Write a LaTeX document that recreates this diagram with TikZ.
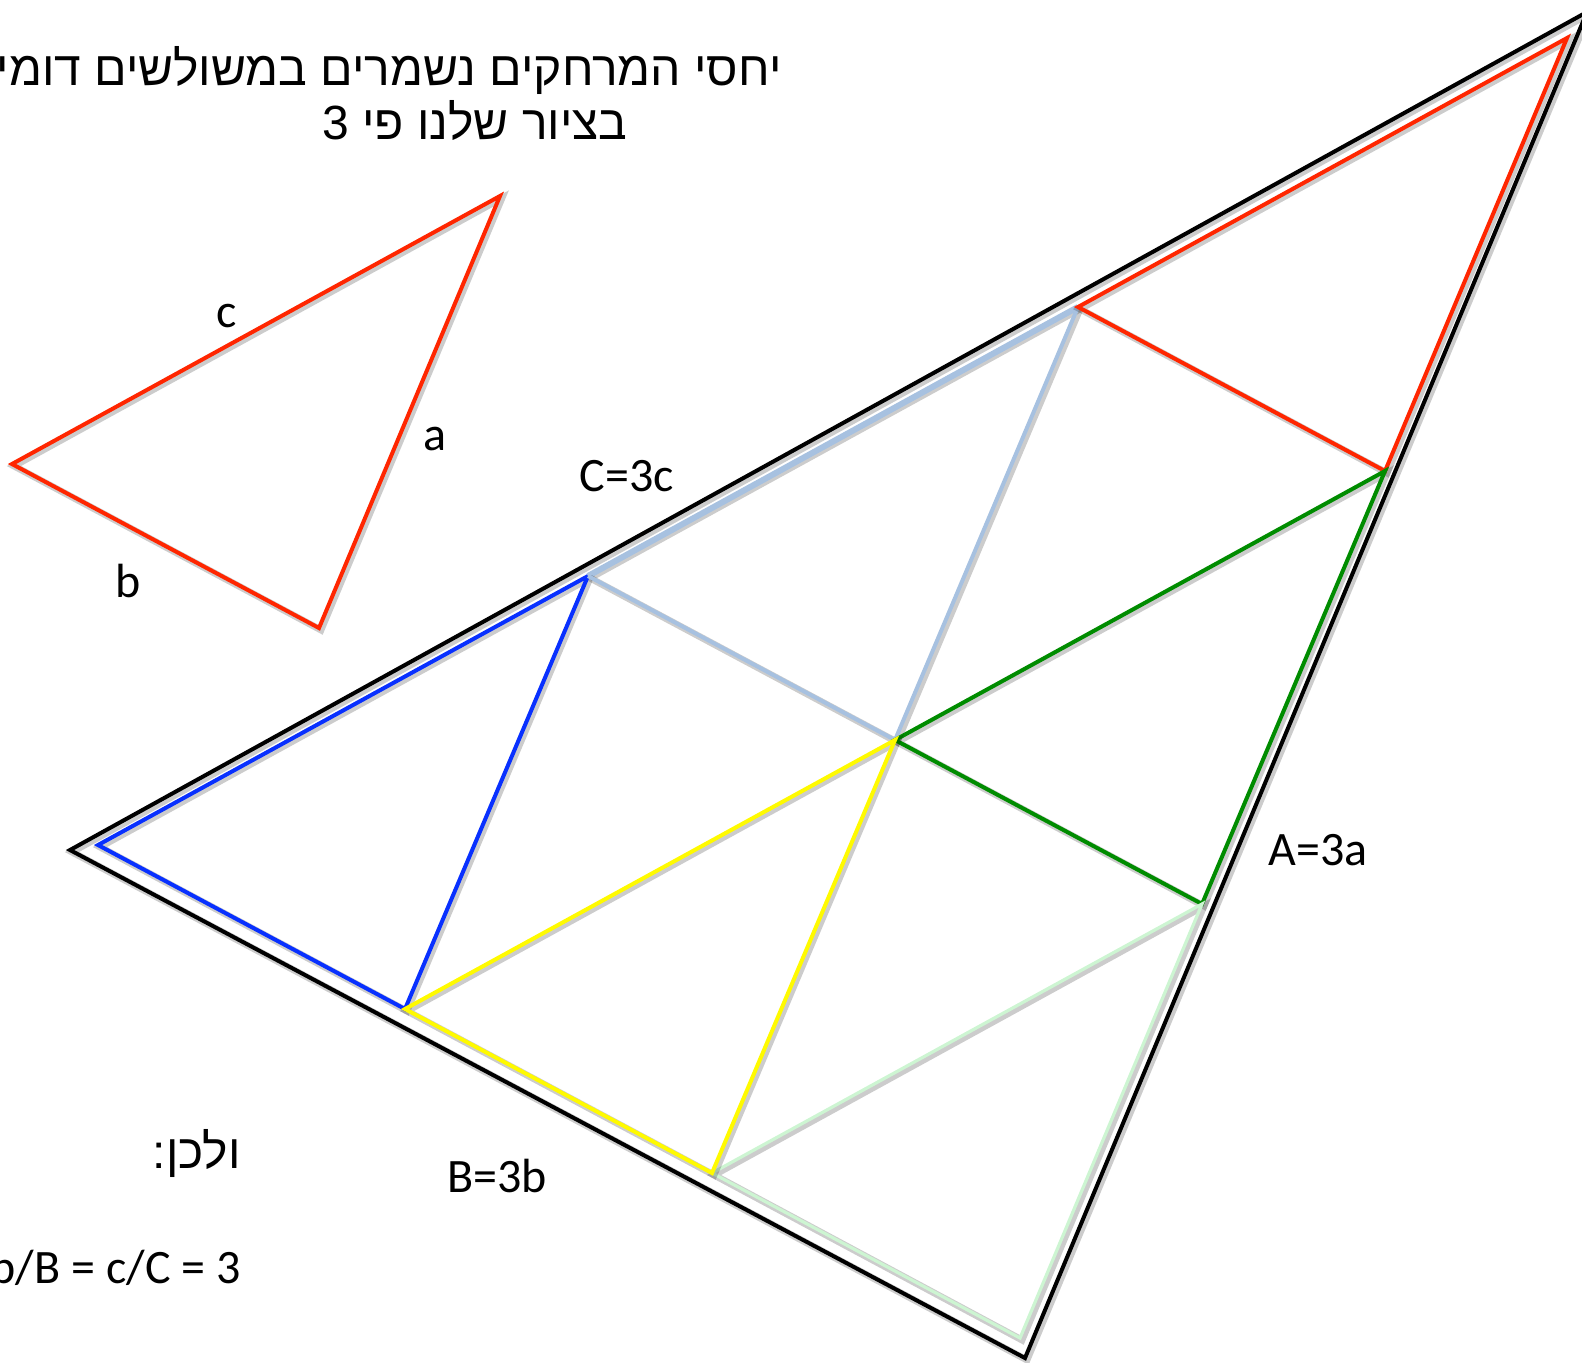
\documentclass[tikz,border=0pt]{standalone}
\usepackage{fontspec}
\setmainfont{Carlito}
\newfontfamily\hebfont[Script=Hebrew]{Liberation Sans}
\TeXXeTstate=1
\definecolor{tred}{RGB}{255,38,0}
\definecolor{tblue}{RGB}{8,48,255}
\definecolor{tlblue}{RGB}{167,193,224}
\definecolor{tgreen}{RGB}{0,140,0}
\definecolor{tyellow}{RGB}{255,250,0}
\definecolor{tlgreen}{RGB}{205,245,210}
\begin{document}
\begin{tikzpicture}[x=0.5pt,y=-0.5pt,
  shd/.style={preaction={draw=black, draw opacity=0.2, line width=3.4pt,
     transform canvas={shift={(1pt,-1pt)}}}},
  edge/.style={line width=2pt, line join=miter, shd},
  lbl/.style={inner sep=0pt, font=\fontsize{24}{28}\selectfont},
  heb/.style={inner sep=0pt, font=\fontsize{24}{28}\selectfont\hebfont}]
\useasboundingbox (0,0) rectangle (1582,1362);
\clip (0,0) rectangle (1582,1362);
% big black triangle
\coordinate (K1) at (70,850);
\coordinate (K2) at (1587,12);
\coordinate (K3) at (1025,1358);
\draw[edge, black] (K1) -- (K2) -- (K3) -- cycle;
% grid points of the colored triangle
\coordinate (P00) at (98,845);
\coordinate (P10) at (588,576);
\coordinate (P20) at (1078,307);
\coordinate (P30) at (1567,38);
\coordinate (P01) at (405,1009);
\coordinate (P11) at (895,740);
\coordinate (P21) at (1385,471);
\coordinate (P02) at (712,1173);
\coordinate (P12) at (1202,904);
\coordinate (P03) at (1020,1338);
% small triangle
\coordinate (S1) at (12,464);
\coordinate (S2) at (500,196);
\coordinate (S3) at (319,628);
\draw[edge, tred] (S1) -- (S2) -- (S3) -- cycle;
% sub triangles
\draw[edge, tblue] (P00) -- (P10) -- (P01) -- cycle;
\draw[edge, tlblue, line width=3pt] (P10) -- (P20);
\draw[edge, tlblue] (P20) -- (P11) -- (P10);
\draw[edge, tred] (P20) -- (P30) -- (P21) -- cycle;
\draw[edge, tgreen] (P11) -- (P21) -- (P12) -- cycle;
\draw[edge, tlgreen, line width=1.6pt] (P02) -- (P12) -- (P03) -- cycle;
\draw[edge, tyellow] (P01) -- (P11) -- (P02) -- cycle;
% labels
\node[lbl] (lc) at (227,316) {c};
\node[lbl] (la) at (435,439) {a};
\node[lbl] (lb) at (128,581) {b};
\node[lbl] (lC) at (627,476) {C=3c};
\node[lbl] (lA) at (1318,850) {A=3a};
\node[lbl] (lB) at (497,1176) {B=3b};
\node[lbl, anchor=east] (leq) at (241,1268) {a/A = b/B = c/C = 3};
\node[heb, anchor=east] (h1) at (782,70) {\beginR יחסי המרחקים נשמרים במשולשים דומים\endR};
\node[heb, anchor=east] (h2) at (628,121) {\beginR בציור שלנו פי 3\endR};
\node[heb, anchor=east] (h3) at (241,1153) {\beginR ולכן:\endR};
\end{tikzpicture}
\end{document}
